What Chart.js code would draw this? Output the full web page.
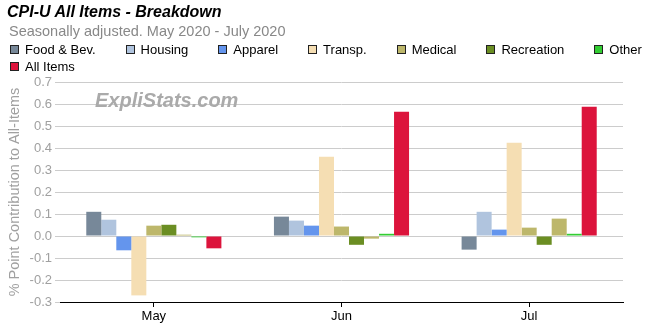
<!DOCTYPE html>
<html>
<head>
<meta charset="utf-8">
<script src="https://cdn.jsdelivr.net/npm/chart.js@4"></script>
<style>
  html, body { margin: 0; padding: 0; background: #fff; overflow: hidden; }
  #wrap { position: relative; width: 650px; height: 330px; font-family: Arial, "Liberation Sans", sans-serif; }
  #grafico { position: absolute; left: 0; top: 0; }
  .title { position: absolute; left: 7px; top: 3px; font-size: 16px; font-weight: bold; font-style: italic; color: #000; }
  .subtitle { position: absolute; left: 9px; top: 23px; font-size: 14.5px; color: #888; }
  #legend { position: absolute; left: 10px; top: 41px; width: 660px; display: flex; flex-wrap: wrap; column-gap: 30px; font-size: 13px; line-height: 17px; color: #000; }
  #legend .item { display: flex; align-items: center; white-space: nowrap; }
  #legend .box { width: 7px; height: 7px; border: 1px solid #222; margin-right: 6px; }
  .watermark { position: absolute; left: 95px; top: 89px; font-size: 20px; font-weight: bold; font-style: italic; color: #aaa; }
</style>
</head>
<body>
<div id="wrap">
  <canvas id="grafico" width="650" height="330"></canvas>
  <div class="title">CPI-U All Items - Breakdown</div>
  <div class="subtitle">Seasonally adjusted. May 2020 - July 2020</div>
  <div id="legend"></div>
  <div class="watermark">ExpliStats.com</div>
</div>
<script>
const months = ['May', 'Jun', 'Jul'];

const foodBev = [0.11, 0.088, -0.062];
const housing = [0.074, 0.07, 0.11];
const apparel = [-0.065, 0.047, 0.029];
const transp = [-0.27, 0.36, 0.424];
const medical = [0.047, 0.043, 0.038];
const recreation = [0.051, -0.04, -0.04];
const educComm = [0.006, -0.012, 0.079];
const other = [-0.006, 0.01, 0.01];
const allItems = [-0.056, 0.565, 0.587];

const yTicks = ['-0.3', '-0.2', '-0.1', '0.0', '0.1', '0.2', '0.3', '0.4', '0.5', '0.6', '0.7'];

const series = [
    { label: 'Food & Bev.', data: foodBev, color: '#778899', legend: true },
    { label: 'Housing', data: housing, color: '#B0C4DE', legend: true },
    { label: 'Apparel', data: apparel, color: '#6495ED', legend: true },
    { label: 'Transp.', data: transp, color: '#F5DEB3', legend: true },
    { label: 'Medical', data: medical, color: '#BDB76B', legend: true },
    { label: 'Recreation', data: recreation, color: '#6B8E23', legend: true },
    { label: 'Educ. & Comm.', data: educComm, color: '#BDB76B', legend: false },
    { label: 'Other', data: other, color: '#32CD32', legend: true },
    { label: 'All Items', data: allItems, color: '#DC143C', legend: true }
];

const graficoCanvas = document.getElementById('grafico');
const chart = new Chart(graficoCanvas, {
    type: 'bar',
    data: {
        labels: months,
        datasets: series.map(s => ({
            label: s.label,
            data: s.data,
            backgroundColor: s.color,
            borderWidth: 0,
            barPercentage: 1,
            categoryPercentage: 0.72
        }))
    },
    options: {
        responsive: false,
        animation: false,
        layout: { padding: { top: 82, right: 27, left: 0, bottom: 0 } },
        plugins: {
            legend: { display: false },
            tooltip: { enabled: false }
        },
        scales: {
            x: {
                offset: true,
                grid: { offset: false, drawOnChartArea: false, drawTicks: true, tickLength: 5, color: '#000' },
                border: { color: '#000', width: 1 },
                ticks: { color: '#000', font: { size: 13, family: 'Arial, "Liberation Sans"' }, padding: 2 },
                afterFit: (scale) => { scale.height = 28; }
            },
            y: {
                min: -0.3,
                max: 0.7,
                grid: { color: '#ccc', tickLength: 5 },
                border: { display: false },
                ticks: {
                    stepSize: 0.1,
                    color: '#a0a0a0',
                    padding: 3,
                    font: { size: 13, family: 'Arial, "Liberation Sans"' },
                    callback: (v) => yTicks[Math.round((v + 0.3) * 10)]
                },
                title: {
                    display: true,
                    text: '% Point Contribution to All-Items',
                    color: '#a0a0a0',
                    font: { size: 14.5, family: 'Arial, "Liberation Sans"' },
                    padding: { top: 6, bottom: 0 }
                },
                afterFit: (scale) => { scale.width = 60; }
            }
        }
    }
});

const legendEl = document.getElementById('legend');
chart.data.datasets.forEach((ds, i) => {
    if (!series[i].legend) return;
    const item = document.createElement('div');
    item.className = 'item';
    const box = document.createElement('span');
    box.className = 'box';
    box.style.background = ds.backgroundColor;
    const txt = document.createElement('span');
    txt.textContent = ds.label;
    item.appendChild(box);
    item.appendChild(txt);
    legendEl.appendChild(item);
});
</script>
</body>
</html>
